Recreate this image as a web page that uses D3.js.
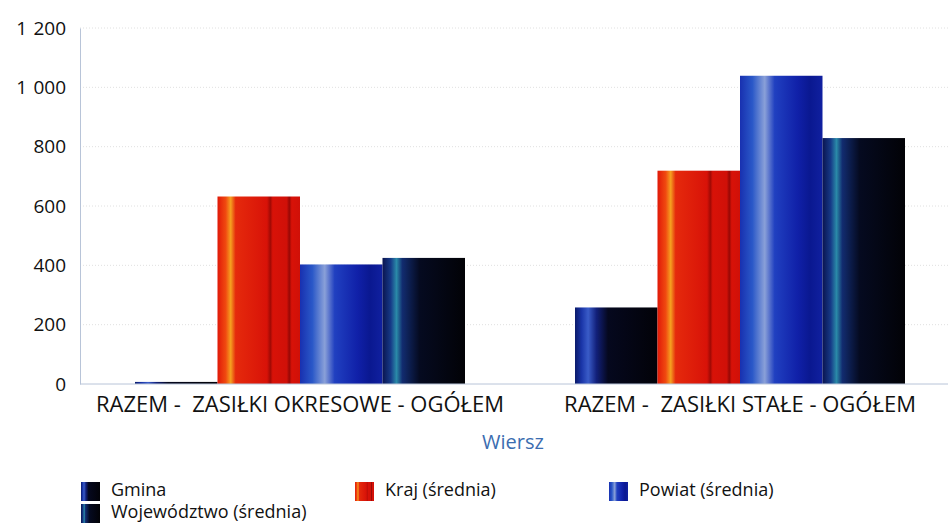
<!DOCTYPE html>
<html><head><meta charset="utf-8">
<script src="https://cdn.jsdelivr.net/npm/d3@7"></script>
<style>body{margin:0;background:#fff}text{font-family:"Open Sans",sans-serif}</style>
</head><body><svg id="c" width="948" height="525"></svg>
<script>
const categories = ["RAZEM -  ZASIŁKI OKRESOWE - OGÓŁEM", "RAZEM -  ZASIŁKI STAŁE - OGÓŁEM"];
const seriesNames = ["Gmina", "Kraj (średnia)", "Powiat (średnia)", "Województwo (średnia)"];
const gmina = [7, 258];
const kraj = [632, 719];
const powiat = [403, 1039];
const wojewodztwo = [425, 829];
const yTicks = [0, 200, 400, 600, 800, 1000, 1200];
const seriesValues = [gmina, kraj, powiat, wojewodztwo];

const svg = d3.select("#c");
const m = {l: 80, r: -12, t: 28, b: 141};
const W = 948, H = 525;
const x0 = d3.scaleBand().domain(categories).range([m.l, W - m.r]).paddingInner(0.25).paddingOuter(0.125);
const x1 = d3.scaleBand().domain(seriesNames).range([0, x0.bandwidth()]);
const y = d3.scaleLinear().domain([0, 1200]).range([H - m.b, m.t]);

const defs = svg.append("defs");
function grad(id, stops) {
  const g = defs.append("linearGradient").attr("id", id).attr("x1", "0%").attr("x2", "100%").attr("y1", "0%").attr("y2", "0%");
  stops.forEach(s => g.append("stop").attr("offset", s[0]).attr("stop-color", s[1]));
}
grad("g0", [[0, "#0a1a6a"], [0.08, "#1a35a8"], [0.16, "#3a5cc8"], [0.26, "#12207a"], [0.4, "#05081e"], [1, "#020208"]]);
grad("g1", [[0, "#e01808"], [0.1, "#f04a10"], [0.16, "#f5a020"], [0.22, "#e52a0c"], [0.6, "#d81208"], [0.64, "#a00a05"], [0.67, "#d81208"], [0.84, "#d01008"], [0.87, "#980805"], [0.9, "#d81208"], [1, "#d01008"]]);
grad("g2", [[0, "#1830b0"], [0.15, "#2a58c8"], [0.3, "#8aa0d8"], [0.42, "#2040c0"], [0.7, "#1020a8"], [0.85, "#0a1890"], [1, "#1020a0"]]);
grad("g3", [[0, "#0a1450"], [0.1, "#163a88"], [0.17, "#2a8aa8"], [0.24, "#122c70"], [0.45, "#050a20"], [1, "#020206"]]);
const legGrads = ["g0", "g1", "g2", "g3"];

// gridlines
svg.append("g").selectAll("line").data(yTicks.slice(1)).join("line")
  .attr("x1", m.l).attr("x2", W).attr("y1", d => y(d)).attr("y2", d => y(d))
  .attr("stroke", "#e0e0e0").attr("stroke-dasharray", "1,2");

// bars
categories.forEach((c, ci) => {
  svg.append("g").selectAll("rect").data(seriesNames).join("rect")
    .attr("x", s => x0(c) + x1(s))
    .attr("width", x1.bandwidth())
    .attr("y", (s, si) => y(seriesValues[si][ci]))
    .attr("height", (s, si) => y(0) - y(seriesValues[si][ci]))
    .attr("fill", (s, si) => `url(#${legGrads[si]})`);
});

// y axis
const ya = svg.append("g").attr("transform", `translate(${m.l},0)`)
  .call(d3.axisLeft(y).tickValues(yTicks).tickSize(0).tickPadding(14).tickFormat(d => d3.format(",")(d).replace(",", "\u2009\u2009")));
ya.select(".domain").attr("stroke", "#b8c4d8");
ya.selectAll("text").attr("font-size", 19).attr("fill", "#111").attr("font-family", "Open Sans");

// x axis
const xa = svg.append("g").attr("transform", `translate(0,${y(0)})`)
  .call(d3.axisBottom(x0).tickSize(0).tickPadding(12));
xa.select(".domain").attr("stroke", "#b8c4d8").attr("d", `M${m.l},0H${W}`);
xa.selectAll("text").attr("font-size", 22).attr("fill", "#111").attr("font-family", "Open Sans")
  .attr("xml:space", "preserve").style("white-space", "pre");

svg.append("text").attr("x", 513).attr("y", 449).attr("text-anchor", "middle")
  .attr("font-size", 20).attr("fill", "#3b6db0").text("Wiersz");

// legend
const legPos = [[81, 482], [355, 482], [609, 482], [81, 504]];
seriesNames.forEach((s, i) => {
  const g = svg.append("g").attr("transform", `translate(${legPos[i][0]},${legPos[i][1]})`);
  g.append("rect").attr("width", 19).attr("height", 19).attr("fill", `url(#${legGrads[i]})`);
  g.append("text").attr("x", 30).attr("y", 14).attr("font-size", 18).attr("fill", "#111").text(s);
});
</script></body></html>
